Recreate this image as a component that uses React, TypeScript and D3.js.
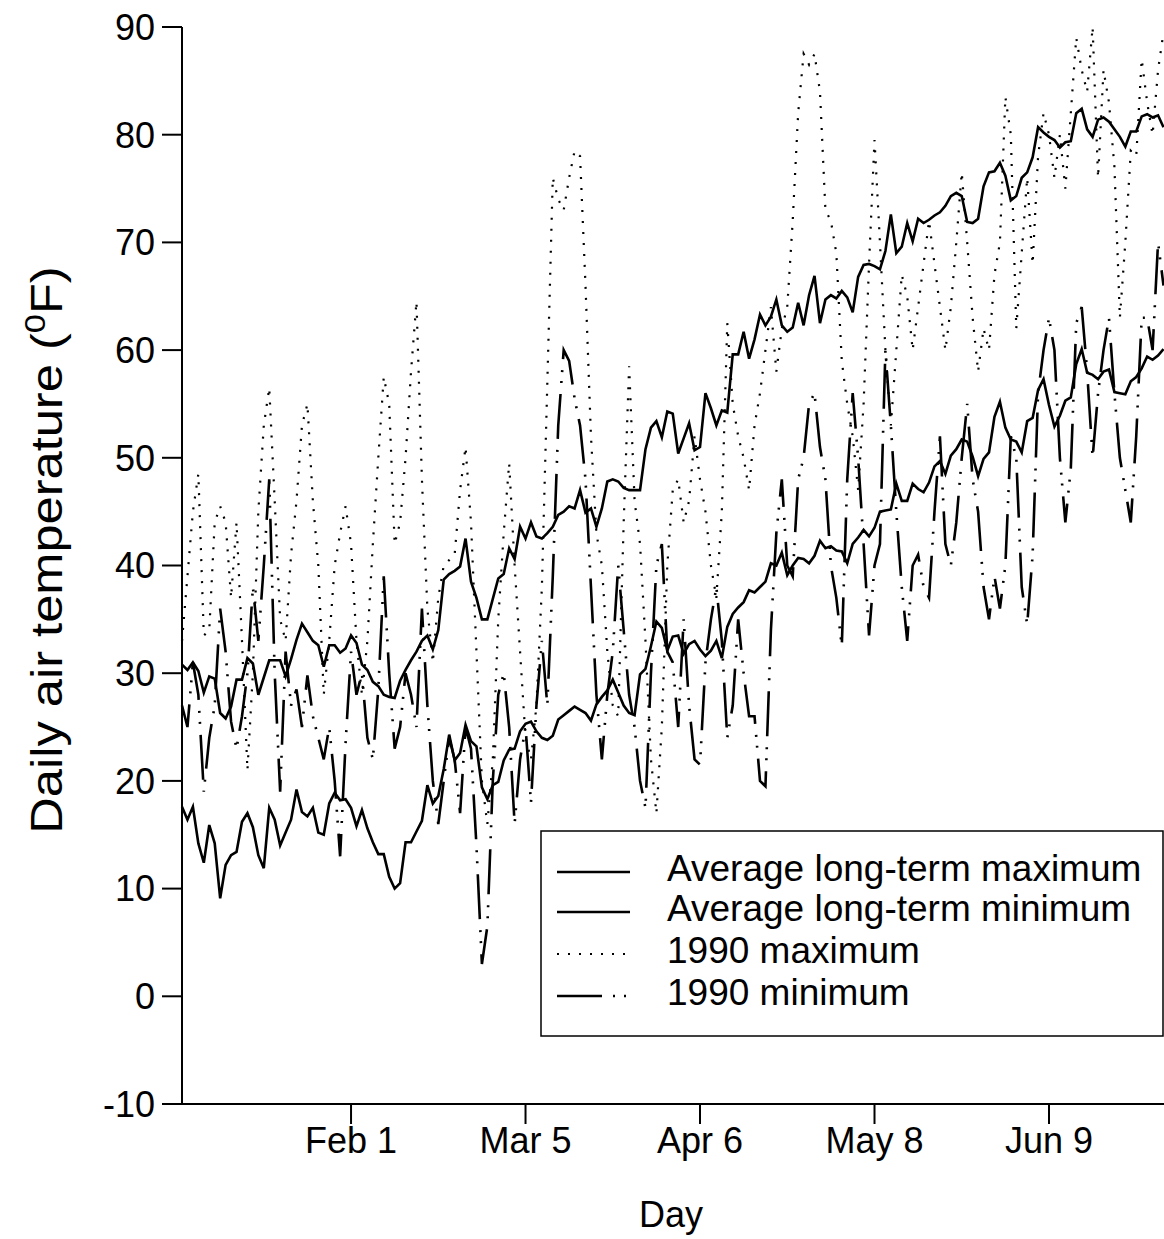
import React from 'react';
import * as d3 from 'd3';

// Day of year (Jan 1 = 1 … Jun 30 = 181)
const dayNumbers: number[] = d3.range(1, 182);

// Average long-term daily maximum (°F)
const ltMax: number[] = [
  30.8, 30.3, 31.0, 30.2, 28.2, 29.7, 29.5, 26.3, 25.8, 26.9,
  29.4, 29.4, 31.4, 30.9, 28.0, 29.6, 31.2, 31.2, 31.2, 29.7,
  31.3, 33.1, 34.6, 33.8, 33.0, 32.6, 30.6, 32.6, 32.6, 31.9,
  32.3, 33.5, 32.8, 30.8, 30.3, 29.2, 28.8, 28.0, 27.8, 27.7,
  29.3, 30.3, 31.2, 32.0, 33.0, 33.5, 32.2, 34.0, 38.7, 39.2,
  39.5, 39.9, 42.5, 38.5, 37.0, 35.0, 35.0, 36.9, 38.8, 39.2,
  41.6, 40.6, 43.6, 42.5, 44.0, 42.7, 42.5, 43.0, 43.6, 44.7,
  45.0, 45.5, 45.3, 47.0, 44.9, 45.3, 43.6, 45.3, 47.8, 48.0,
  47.8, 47.2, 47.0, 47.0, 47.0, 50.8, 52.8, 53.4, 51.9, 54.3,
  54.1, 50.4, 51.8, 53.2, 50.7, 51.0, 56.0, 54.6, 53.0, 54.4,
  54.2, 59.6, 59.6, 61.7, 59.2, 61.0, 63.3, 62.3, 63.1, 64.7,
  62.3, 61.7, 62.1, 64.4, 62.3, 65.1, 66.9, 62.5, 64.7, 65.1,
  64.8, 65.5, 64.9, 63.5, 66.8, 67.9, 68.0, 67.8, 67.5, 69.2,
  72.6, 69.0, 69.6, 71.8, 70.1, 72.2, 71.8, 72.1, 72.5, 72.8,
  73.4, 74.3, 74.6, 74.3, 71.9, 71.8, 72.2, 75.2, 76.5, 76.6,
  77.4, 76.2, 73.9, 74.3, 76.0, 76.5, 77.9, 80.7, 80.2, 79.8,
  79.5, 78.8, 79.3, 79.4, 82.0, 82.4, 80.5, 79.8, 81.4, 81.6,
  81.2, 80.5, 79.8, 78.9, 80.3, 80.3, 81.7, 81.9, 81.6, 81.8,
  80.7,
];

// Average long-term daily minimum (°F)
const ltMin: number[] = [
  17.6, 16.4, 17.6, 14.2, 12.4, 15.9, 14.2, 9.1, 12.2, 13.1,
  13.4, 16.2, 17.0, 15.7, 13.1, 11.9, 17.5, 16.4, 14.0, 15.2,
  16.4, 19.2, 17.1, 16.7, 17.5, 15.2, 15.0, 17.9, 18.9, 18.2,
  18.3, 17.5, 15.8, 17.3, 15.6, 14.3, 13.2, 13.2, 11.1, 10.0,
  10.5, 14.3, 14.3, 15.3, 16.3, 19.6, 17.9, 18.6, 21.1, 24.3,
  21.9, 22.6, 25.2, 23.7, 23.2, 19.4, 18.3, 19.6, 19.9, 21.9,
  22.9, 23.0, 24.6, 25.3, 25.5, 24.6, 24.0, 23.8, 24.2, 25.7,
  26.1, 26.5, 26.9, 26.6, 26.3, 25.6, 27.1, 27.8, 28.4, 29.4,
  28.2, 27.0, 26.3, 26.1, 29.9, 30.4, 32.5, 34.8, 34.2, 32.1,
  33.4, 33.5, 31.8, 32.7, 33.0, 32.2, 31.6, 32.1, 33.0, 31.4,
  34.3, 35.5, 36.1, 36.6, 37.7, 37.5, 38.0, 38.5, 40.2, 40.0,
  41.2, 39.1, 40.0, 40.7, 40.6, 40.2, 40.9, 42.3, 41.6, 41.8,
  41.4, 41.3, 40.2, 42.0, 42.6, 43.3, 42.7, 43.5, 45.0, 45.1,
  45.2, 47.6, 46.0, 46.0, 47.6, 47.1, 46.8, 47.7, 49.2, 49.7,
  48.5, 50.2, 50.8, 51.7, 51.5, 50.1, 48.3, 49.9, 50.5, 53.8,
  55.2, 52.8, 51.7, 51.5, 50.5, 53.4, 53.7, 56.3, 57.3, 54.9,
  52.9, 53.9, 55.3, 55.6, 58.7, 60.1, 57.9, 57.7, 57.3, 58.0,
  58.2, 56.1, 56.0, 55.9, 57.1, 57.5, 58.3, 59.4, 59.1, 59.5,
  60.1,
];

// 1990 daily maximum (°F)
const max1990: number[] = [
  33, 39, 45, 48.5, 33.5, 34, 44, 45.5, 44, 37,
  44, 33, 21, 30, 45, 53, 56.5, 46, 35, 33,
  41, 46, 53, 55, 46, 40, 28, 33, 40, 43,
  45.5, 42, 33, 28, 33, 42, 50, 57.5, 55, 42,
  44, 50, 58, 64.5, 48, 36, 31, 37, 40, 40.5,
  41, 47, 51, 44, 32, 20, 16, 22, 35, 43,
  49.5, 40, 32, 24, 22, 27, 38, 57, 76, 74,
  73, 76, 78.5, 78, 66, 52, 43, 40, 32, 27,
  26, 44, 58.5, 46, 42, 33, 22, 17, 25, 40,
  47, 48, 44, 46, 52, 48, 45, 40, 37, 45,
  62.5, 55, 52, 50, 47, 53, 56, 60, 64, 58,
  62, 64, 72, 82, 87.5, 86.5, 87.5, 84, 73, 72,
  69, 59, 55, 52, 47, 55, 68, 79.5, 70, 60,
  53, 60, 67, 65, 60, 64, 68, 72, 68, 64,
  60, 64, 70, 76.5, 70, 63, 58, 62, 60, 67,
  70, 83.5, 80, 62, 69, 76, 68, 78, 82, 80,
  76, 80, 75, 82, 89, 86, 84, 90, 76, 86,
  83, 77, 63, 70, 78.5, 78, 87, 83, 80, 86,
  89.5,
];

// 1990 daily minimum (°F)
const min1990: number[] = [
  27, 25, 31, 28, 19, 24, 27, 36, 32, 25.5,
  23, 26, 30, 38, 33, 40, 48, 30, 19, 32,
  27, 28.5, 25, 29.8, 26, 24, 22, 25, 20, 13,
  23.5, 32, 28, 30, 24, 22, 28.5, 39, 30, 23,
  25, 30, 28, 25, 36, 27, 20, 16, 20, 24,
  22, 17, 25, 23, 14, 3, 6.5, 20, 28, 30,
  25, 16, 22, 25, 18, 27, 33, 27, 39, 53,
  60, 59, 55.5, 53, 48, 38, 28, 22, 28, 32,
  40, 34, 28, 25, 20, 17.5, 30, 40, 42, 32,
  31, 25, 35, 27, 22, 21.5, 31, 35, 38, 33,
  24, 27, 35, 30, 26, 26, 20, 19.5, 34, 43,
  48, 40, 39, 48, 50, 55, 56, 51, 48, 40,
  37, 32.5, 48, 56, 50, 42, 33.5, 40, 42, 60,
  53, 45, 38, 33, 40, 41, 38, 37, 45, 52,
  42, 40, 44, 50, 55, 48, 45, 38, 35, 39,
  36, 40, 52, 50, 38, 34.5, 41, 56, 60, 63,
  60, 50, 44, 49, 62.5, 64, 58, 50, 56, 60,
  63, 56, 50, 47, 44, 52, 63, 63, 60, 70,
  66,
];

const tickDays: number[] = [32, 64, 96, 128, 160];
const tickLabels: string[] = ['Feb 1', 'Mar 5', 'Apr 6', 'May 8', 'Jun 9'];
const yTickValues: number[] = d3.range(-10, 91, 10);

const seriesNames: string[] = [
  'Average long-term maximum',
  'Average long-term minimum',
  '1990 maximum',
  '1990 minimum',
];

const FONT = '"Liberation Sans", Arial, Helvetica, sans-serif';

const dotted = '2 9';
const dashDotDot = '45 11 2 9 2 11';
const dashes: (string | undefined)[] = [undefined, undefined, dotted, dashDotDot];

export default function App() {
  const x = d3.scaleLinear().domain([1, 181]).range([182, 1163.5]);
  const y = d3.scaleLinear().domain([-10, 90]).range([1104, 27]);

  const lineGen = d3
    .line<number>()
    .x((_, i) => x(dayNumbers[i]))
    .y((v) => y(v));

  const series = [ltMax, ltMin, max1990, min1990];

  const tickFont = 36;
  const legendFont = 37;
  const titleFont = 44;

  const legendX = 541;
  const legendY = 831;
  const legendW = 622;
  const legendH = 205;
  const rowY = [872, 912, 954, 996];

  return (
    <svg
      width={1164}
      height={1239}
      style={{ position: 'absolute', left: 0, top: 0, background: '#fff' }}
      fontFamily={FONT}
    >
      <rect x={0} y={0} width={1164} height={1239} fill="#fff" />

      {/* data lines */}
      <g fill="none" stroke="#000" strokeLinejoin="miter">
        {series.map((vals, i) => (
          <path
            key={seriesNames[i]}
            d={lineGen(vals) || ''}
            strokeWidth={i === 2 ? 2.2 : 2.6}
            strokeDasharray={dashes[i]}
          />
        ))}
      </g>

      {/* y axis */}
      <line x1={182} x2={182} y1={y(90)} y2={y(-10)} stroke="#000" strokeWidth={2} />
      {yTickValues.map((t) => (
        <g key={t}>
          <line x1={162} x2={182} y1={y(t)} y2={y(t)} stroke="#000" strokeWidth={2} />
          <text
            x={155}
            y={y(t) + 0.358 * tickFont}
            fontSize={tickFont}
            textAnchor="end"
          >
            {t}
          </text>
        </g>
      ))}

      {/* x axis */}
      <line x1={181} x2={1164} y1={1104} y2={1104} stroke="#000" strokeWidth={2} />
      {tickDays.map((d, i) => (
        <g key={d}>
          <line x1={x(d)} x2={x(d)} y1={1104} y2={1124} stroke="#000" strokeWidth={2} />
          <text
            x={x(d)}
            y={1140 + 0.358 * tickFont}
            fontSize={tickFont}
            textAnchor="middle"
          >
            {tickLabels[i]}
          </text>
        </g>
      ))}

      <text x={671} y={1214 + 0.358 * tickFont} fontSize={tickFont} textAnchor="middle">
        Day
      </text>

      <text
        transform={`translate(${46 + 0.358 * titleFont},550) rotate(-90) scale(1.15,1)`}
        fontSize={titleFont}
        textAnchor="middle"
      >
        Daily air temperature (
        <tspan fontSize={30} dy={-17}>0</tspan>
        <tspan fontSize={titleFont} dy={17}>F)</tspan>
      </text>

      {/* legend */}
      <rect
        x={legendX}
        y={legendY}
        width={legendW}
        height={legendH}
        fill="#fff"
        stroke="#000"
        strokeWidth={1.5}
      />
      {seriesNames.map((name, i) => (
        <g key={name}>
          <line
            x1={557}
            x2={630}
            y1={rowY[i]}
            y2={rowY[i]}
            stroke="#000"
            strokeWidth={i === 2 ? 2.2 : 2.6}
            strokeDasharray={dashes[i]}
          />
          <text x={667} y={rowY[i] - 4 + 0.358 * legendFont} fontSize={legendFont}>
            {name}
          </text>
        </g>
      ))}
    </svg>
  );
}
